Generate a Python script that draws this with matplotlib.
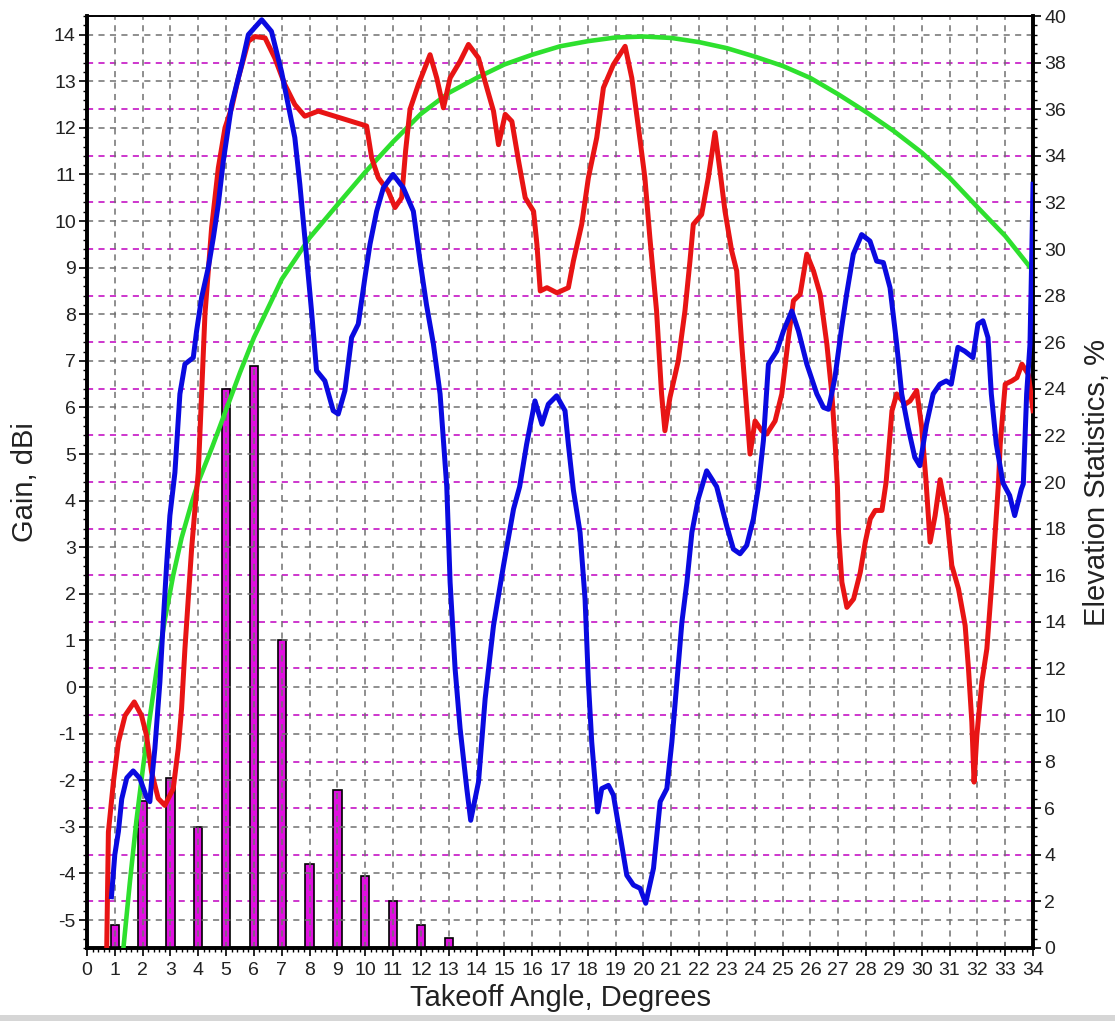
import matplotlib
matplotlib.use('Agg')
import matplotlib.pyplot as plt
from matplotlib.patches import Rectangle
from matplotlib.ticker import MultipleLocator

plt.rcParams['font.family'] = ['Liberation Sans', 'DejaVu Sans']
plt.rcParams['axes.unicode_minus'] = False

# elevation statistics bars (right axis, %)
bar_deg = [1, 2, 3, 4, 5, 6, 7, 8, 9, 10, 11, 12, 13]
bar_pct = [1.0, 6.3, 7.3, 5.2, 24.0, 25.0, 13.2, 3.6, 6.8, 3.1, 2.0, 1.0, 0.45]

# blue gain trace (deg, dBi)
blue_deg = [0.88, 1.0, 1.13, 1.25, 1.43, 1.66, 1.9, 2.14, 2.26, 2.32, 2.44, 2.62, 2.74, 2.86, 2.98,
            3.16, 3.34, 3.52, 3.82, 3.94, 4.12, 4.36, 4.54, 4.72, 4.9, 5.2, 5.56, 5.8, 6.28, 6.63,
            6.99, 7.23, 7.47, 7.65, 7.83, 8.07, 8.25, 8.55, 8.85, 9.03, 9.27, 9.51, 9.75, 9.99,
            10.17, 10.41, 10.65, 11.0, 11.37, 11.73, 11.97, 12.2, 12.45, 12.69, 12.93, 13.05,
            13.23, 13.41, 13.65, 13.79, 14.07, 14.31, 14.61, 14.97, 15.33, 15.55, 15.8, 16.1,
            16.35, 16.58, 16.88, 17.18, 17.3, 17.48, 17.72, 17.9, 18.02, 18.14, 18.26, 18.35,
            18.5, 18.74, 18.92, 19.16, 19.4, 19.64, 19.88, 20.08, 20.36, 20.6, 20.84, 21.02,
            21.2, 21.38, 21.56, 21.74, 21.97, 22.27, 22.63, 22.99, 23.23, 23.47, 23.71, 23.95,
            24.13, 24.31, 24.49, 24.79, 25.03, 25.33, 25.57, 25.87, 26.23, 26.47, 26.65, 26.88,
            27.12, 27.3, 27.54, 27.84, 28.14, 28.38, 28.62, 28.86, 29.1, 29.28, 29.51, 29.75,
            29.93, 30.17, 30.41, 30.65, 30.88, 31.06, 31.3, 31.54, 31.84, 32.02, 32.2, 32.38,
            32.5, 32.68, 32.92, 33.16, 33.34, 33.58, 33.65, 33.77, 33.89, 33.95, 34.0]
blue_gain = [-4.5, -3.6, -3.1, -2.4, -1.95, -1.8, -1.96, -2.36, -2.46, -2.04, -1.32, 0.1, 1.39,
             2.6, 3.68, 4.6, 6.29, 6.93, 7.07, 7.64, 8.36, 9.0, 9.64, 10.36, 11.29, 12.5, 13.36,
             14.0, 14.32, 14.07, 13.21, 12.5, 11.79, 10.79, 9.64, 8.07, 6.79, 6.57, 5.93, 5.86,
             6.36, 7.5, 7.79, 8.79, 9.5, 10.21, 10.71, 11.0, 10.71, 10.21, 9.14, 8.21, 7.36,
             6.29, 4.3, 2.25, 0.39, -0.89, -2.18, -2.86, -2.04, -0.25, 1.32, 2.61, 3.82, 4.3,
             5.21, 6.14, 5.64, 6.07, 6.25, 5.93, 5.21, 4.23, 3.32, 1.89, 0.11, -1.18, -2.04,
             -2.68, -2.18, -2.11, -2.32, -3.18, -4.04, -4.25, -4.32, -4.64, -3.89, -2.46, -2.18,
             -1.18, 0.11, 1.39, 2.25, 3.32, 4.04, 4.64, 4.3, 3.46, 2.96, 2.86, 3.04, 3.61, 4.3,
             5.29, 6.93, 7.21, 7.64, 8.07, 7.64, 6.93, 6.29, 6.0, 5.96, 6.64, 7.71, 8.43, 9.29,
             9.71, 9.57, 9.14, 9.11, 8.57, 7.36, 6.29, 5.57, 4.93, 4.75, 5.64, 6.29, 6.5, 6.57,
             6.5, 7.29, 7.21, 7.07, 7.79, 7.86, 7.5, 6.29, 5.21, 4.38, 4.11, 3.68, 4.25, 4.36,
             6.29, 7.36, 9.14, 10.79]

# red gain trace (deg, dBi)
red_deg = [0.71, 0.77, 0.95, 1.13, 1.37, 1.7, 1.96, 2.14, 2.32, 2.56, 2.8, 3.1, 3.28, 3.4, 3.52,
           3.64, 3.76, 3.88, 4.0, 4.1, 4.24, 4.48, 4.72, 4.96, 5.2, 5.44, 5.8, 6.04, 6.4, 6.75,
           7.11, 7.47, 7.83, 8.31, 8.91, 9.51, 10.05, 10.23, 10.47, 10.83, 11.07, 11.31, 11.45,
           11.61, 11.91, 12.33, 12.57, 12.81, 13.05, 13.41, 13.71, 14.07, 14.37, 14.61, 14.79,
           15.03, 15.27, 15.51, 15.75, 16.05, 16.17, 16.29, 16.53, 16.89, 17.3, 17.48, 17.78,
           18.02, 18.32, 18.56, 18.92, 19.34, 19.58, 19.82, 20.05, 20.23, 20.47, 20.65, 20.77,
           20.95, 21.25, 21.49, 21.67, 21.79, 22.09, 22.33, 22.57, 22.75, 22.93, 23.17, 23.35,
           23.53, 23.71, 23.83, 24.01, 24.25, 24.43, 24.73, 24.97, 25.21, 25.39, 25.63, 25.87,
           26.11, 26.35, 26.59, 26.77, 26.89, 26.97, 27.01, 27.13, 27.31, 27.55, 27.79, 27.97,
           28.15, 28.33, 28.57, 28.72, 28.93, 29.1, 29.4, 29.58, 29.82, 30.0, 30.15, 30.3,
           30.48, 30.66, 30.9, 31.08, 31.32, 31.56, 31.68, 31.8, 31.88, 31.98, 32.16, 32.34,
           32.52, 32.64, 32.76, 32.82, 33.0, 33.24, 33.42, 33.6, 33.83, 34.0]
red_gain = [-5.6, -3.11, -2.04, -1.18, -0.61, -0.32, -0.61, -1.04, -1.82, -2.39, -2.54, -2.18,
            -1.32, -0.46, 0.82, 1.89, 2.96, 3.82, 4.6, 6.0, 8.0, 9.86, 11.14, 12.0, 12.43, 13.07,
            13.86, 13.96, 13.93, 13.5, 12.93, 12.5, 12.25, 12.36, 12.25, 12.14, 12.04, 11.36,
            10.93, 10.64, 10.29, 10.5, 11.5, 12.4, 12.93, 13.57, 13.07, 12.43, 13.07, 13.43,
            13.79, 13.5, 12.86, 12.36, 11.64, 12.29, 12.14, 11.29, 10.5, 10.21, 9.5, 8.5, 8.57,
            8.46, 8.57, 9.14, 9.93, 10.93, 11.79, 12.86, 13.36, 13.75, 13.07, 12.0, 10.93, 9.64,
            8.07, 6.29, 5.5, 6.21, 7.0, 8.07, 9.14, 9.93, 10.14, 10.93, 11.9, 11.07, 10.21, 9.36,
            8.93, 7.36, 5.93, 5.0, 5.71, 5.5, 5.43, 5.71, 6.29, 7.5, 8.29, 8.43, 9.29, 8.93,
            8.43, 7.36, 6.29, 5.21, 4.3, 3.32, 2.25, 1.71, 1.89, 2.46, 3.11, 3.61, 3.79, 3.79,
            4.4, 5.93, 6.29, 6.07, 6.14, 6.36, 5.57, 4.45, 3.11, 3.68, 4.45, 3.68, 2.61, 2.11,
            1.32, 0.39, -0.75, -2.04, -1.04, 0.11, 0.82, 2.25, 3.32, 4.4, 5.21, 6.5, 6.57, 6.64,
            6.93, 6.71, 5.93]

# green trace (deg, dBi)
green_deg = [1.31, 1.54, 1.78, 2.02, 2.26, 2.5, 2.8, 3.1, 3.4, 3.76, 4.0, 4.5, 5.0, 5.5, 6, 7, 8,
             9, 10, 11, 12, 13, 14, 15, 16, 17, 18, 19, 20, 21, 22, 23, 24, 25, 26, 27, 28, 29,
             30, 31, 32, 33, 34]
green_gain = [-5.6, -4.2, -2.85, -1.7, -0.65, 0.35, 1.45, 2.4, 3.2, 3.95, 4.4, 5.15, 5.95,
              6.75, 7.5, 8.75, 9.64, 10.35, 11.05, 11.7, 12.3, 12.75, 13.07, 13.36, 13.57, 13.75,
              13.86, 13.94, 13.96, 13.93, 13.84, 13.71, 13.53, 13.33, 13.07, 12.72, 12.34, 11.93,
              11.47, 10.93, 10.3, 9.68, 8.93]

fig = plt.figure(figsize=(11.15, 10.21), dpi=100)
ax = fig.add_axes([0.078, 0.0715, 0.8485, 0.9128])
ax2 = ax.twinx()
ax.set_zorder(ax2.get_zorder() + 1)
ax.patch.set_visible(False)
ax2.patch.set_facecolor('white')

grey_dash = (0, (4, 3.5))

# right axis: percent, bars + magenta grid
ax2.set_ylim(0, 40)
ax2.yaxis.set_major_locator(MultipleLocator(2))
ax2.yaxis.set_minor_locator(MultipleLocator(0.4))
ax2.grid(True, axis='y', color='#c000c0', linestyle=grey_dash, linewidth=1.1)
ax2.bar(bar_deg, bar_pct, width=0.3, color='#e010e0', edgecolor='black', linewidth=1.2, zorder=3)
ax2.set_ylabel('Elevation Statistics, %', fontsize=21, color='#222222', labelpad=12)

# left axis: gain
ax.set_xlim(0, 34)
ax.set_ylim(-5.6, 14.4)
ax.xaxis.set_major_locator(MultipleLocator(1))
ax.xaxis.set_minor_locator(MultipleLocator(0.2))
ax.yaxis.set_major_locator(MultipleLocator(1))
ax.yaxis.set_minor_locator(MultipleLocator(0.2))
ax.grid(True, which='major', color='#707070', linestyle=grey_dash, linewidth=1.1)

ax.plot(green_deg, green_gain, color='#2ee02e', linewidth=3.3, zorder=3)
ax.plot(red_deg, red_gain, color='#e81414', linewidth=3.6, zorder=4)
ax.plot(blue_deg, blue_gain, color='#0a0ae0', linewidth=3.6, zorder=5)

ax.set_ylabel('Gain, dBi', fontsize=21, color='#222222', labelpad=11)
ax.set_xlabel('Takeoff Angle, Degrees', fontsize=21, color='#222222', labelpad=4)

for a in (ax, ax2):
    a.tick_params(which='major', direction='out', length=6, width=1.2, labelsize=14,
                  labelcolor='#222222', pad=2)
    a.tick_params(which='minor', direction='out', length=3, width=1)
    for s in ('left', 'right', 'bottom'):
        a.spines[s].set_linewidth(2.6)
    a.spines['top'].set_linewidth(1.2)
ax.tick_params(axis='x', pad=4)

fig.add_artist(Rectangle((0, 0), 1, 0.006, transform=fig.transFigure,
                         facecolor='#d6d6d6', edgecolor='none'))

fig.savefig('out.png', dpi=100, facecolor='white')
